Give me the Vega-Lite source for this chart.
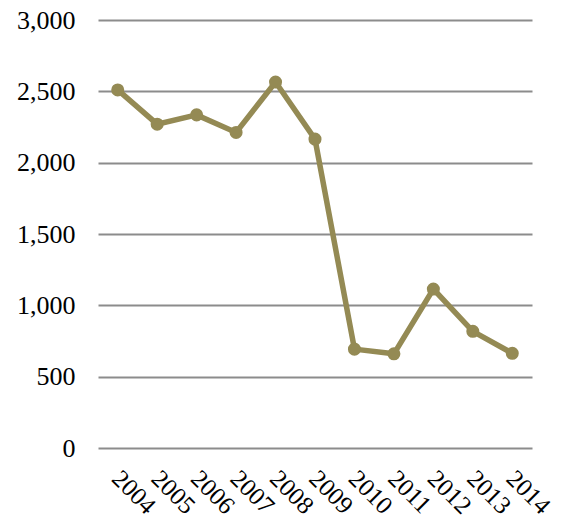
{
  "$schema": "https://vega.github.io/schema/vega-lite/v6.json",
  "autosize": "none",
  "padding": {"left": 98, "top": 20, "right": 30, "bottom": 72},
  "width": 434,
  "height": 428,
  "background": "white",
  "config": {"view": {"stroke": null}, "font": "Liberation Serif"},
  "data": {"values": [
    {"year": "2004", "value": 2510},
    {"year": "2005", "value": 2270},
    {"year": "2006", "value": 2335},
    {"year": "2007", "value": 2212},
    {"year": "2008", "value": 2565},
    {"year": "2009", "value": 2165},
    {"year": "2010", "value": 693},
    {"year": "2011", "value": 660},
    {"year": "2012", "value": 1114},
    {"year": "2013", "value": 818},
    {"year": "2014", "value": 664}
  ]},
  "encoding": {
    "x": {"field": "year", "type": "ordinal", "scale": {"type": "point", "padding": 0.5},
      "axis": {"title": null, "labelAngle": 45, "labelAlign": "left", "labelBaseline": "middle", "labelFont": "Liberation Serif", "labelFontSize": 25, "labelColor": "black", "labelPadding": 26, "labelOverlap": false, "ticks": false, "domain": false, "labelOffset": -2}},
    "y": {"field": "value", "type": "quantitative", "scale": {"domain": [0, 3000]},
      "axis": {"title": null, "values": [0, 500, 1000, 1500, 2000, 2500, 3000], "format": ",.0f", "labelFont": "Liberation Serif", "labelFontSize": 26, "labelColor": "black", "labelPadding": 23, "ticks": false, "domain": false, "gridColor": "#8c8c8c", "gridWidth": 2, "gridOpacity": 1}}
  },
  "layer": [
    {"mark": {"type": "line", "color": "#948A54", "strokeWidth": 5.5}},
    {"mark": {"type": "point", "filled": true, "color": "#948A54", "size": 170, "opacity": 1}}
  ]
}
